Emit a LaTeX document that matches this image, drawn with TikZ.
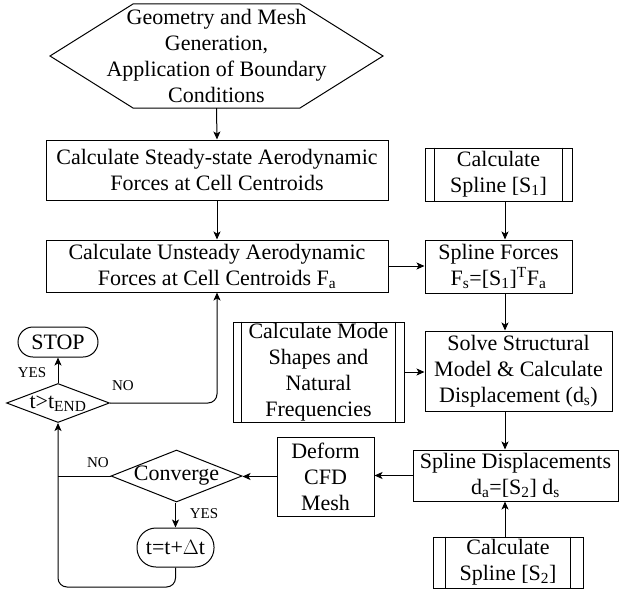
\documentclass[tikz,border=0pt]{standalone}
\usepackage{fontspec}
\setmainfont{Liberation Serif}
\usetikzlibrary{arrows.meta,shapes.geometric}
\begin{document}
\begin{tikzpicture}[x=1pt,y=-1pt,
  every node/.style={font=\fontsize{22}{26}\selectfont, align=center, inner sep=0pt},
  box/.style={draw, line width=1pt},
  lbl/.style={font=\fontsize{15}{17}\selectfont},
  ln/.style={line width=1pt},
  arr/.style={line width=1pt, -{Stealth[length=8pt,width=7pt,inset=2pt]}}
]
\useasboundingbox (0,0) rectangle (620,591);

% hexagon
\draw[ln] (50,56) -- (133,4) -- (300,4) -- (383,56) -- (300,108) -- (133,108) -- cycle;
\node[minimum width=333pt, minimum height=104pt] (hex) at (216.5,56)
  {Geometry and Mesh\\Generation,\\Application of Boundary\\Conditions};

\node[box, minimum width=342pt, minimum height=60pt] (box1) at (217,170)
  {Calculate Steady-state Aerodynamic\\Forces at Cell Centroids};
\node[box, minimum width=342pt, minimum height=52pt] (box2) at (217,266)
  {Calculate Unsteady Aerodynamic\\Forces at Cell Centroids F\textsubscript{a}};

\node[box, minimum width=147pt, minimum height=53pt] (s1) at (498.5,174.5)
  {Calculate\\Spline [S\textsubscript{1}]};
\draw[ln] ([xshift=10pt]s1.north west) -- ([xshift=10pt]s1.south west);
\draw[ln] ([xshift=-10pt]s1.north east) -- ([xshift=-10pt]s1.south east);

\node[box, minimum width=147pt, minimum height=53pt] (sf) at (498.5,266.5)
  {Spline Forces\\F\textsubscript{s}=[S\textsubscript{1}]\textsuperscript{T}F\textsubscript{a}};

\node[box, rounded corners=15pt, minimum width=80pt, minimum height=30pt] (stop) at (58,342) {STOP};

\node[box, minimum width=171pt, minimum height=100pt] (mode) at (318.5,372)
  {Calculate Mode\\Shapes and\\Natural\\Frequencies};
\draw[ln] ([xshift=9pt]mode.north west) -- ([xshift=9pt]mode.south west);
\draw[ln] ([xshift=-9pt]mode.north east) -- ([xshift=-9pt]mode.south east);

\node[box, minimum width=187pt, minimum height=80pt] (solve) at (518.5,371)
  {Solve Structural\\Model \& Calculate\\Displacement (d\textsubscript{s})};

\node[box, diamond, minimum width=103pt, minimum height=39pt, aspect=2.6] (tend) at (58,403) {};
\node at (58,404) {t>t\textsubscript{END}};

\node[box, diamond, minimum width=131pt, minimum height=52pt, aspect=2.5] (conv) at (176.5,476) {};
\node at (176.5,476) {Converge};

\node[box, minimum width=97pt, minimum height=79pt] (deform) at (325.5,476.5)
  {Deform\\CFD\\Mesh};

\node[box, minimum width=205pt, minimum height=51pt] (sd) at (515.5,475.5)
  {Spline Displacements\\d\textsubscript{a}=[S\textsubscript{2}] d\textsubscript{s}};

\node[box, rounded corners=19pt, minimum width=77pt, minimum height=39pt] (tdt) at (175.5,547.5)
  {t=t+$\Delta$t};

\node[box, minimum width=150pt, minimum height=51pt] (s2) at (508,562.5)
  {Calculate\\Spline [S\textsubscript{2}]};
\draw[ln] ([xshift=13pt]s2.north west) -- ([xshift=13pt]s2.south west);
\draw[ln] ([xshift=-13pt]s2.north east) -- ([xshift=-13pt]s2.south east);

\coordinate (col) at (505,0);
\coordinate (loopb) at (58,587);

% connectors
\draw[arr] (hex.south) -- (box1.north);
\draw[arr] (box1.south) -- (box2.north);
\draw[arr] (s1.south -| col) -- (sf.north -| col);
\draw[arr] (box2.east) -- (box2.east -| sf.west);
\draw[arr] (sf.south -| col) -- (solve.north -| col);
\draw[arr] (mode.east) -- (mode.east -| solve.west);
\draw[arr] (solve.south -| col) -- (sd.north -| col);
\draw[arr] (s2.north -| col) -- (sd.south -| col);
\draw[arr] (sd.west) -- (sd.west -| deform.east);
\draw[arr] (deform.west) -- (deform.west -| conv.east);
\draw[arr] (conv.south -| tdt.north) -- (tdt.north);
\draw[arr, rounded corners=9pt] (tdt.south) |- (loopb) -- (tend.south);
\draw[ln] (conv.west) -- (conv.west -| tend.south);
\draw[arr] (tend.north) -- (stop.south);
\draw[arr, rounded corners=9pt] (tend.east) -| (box2.south);

% labels
\node[lbl] at (32,373) {YES};
\node[lbl] at (123,386) {NO};
\node[lbl] at (98,463) {NO};
\node[lbl] at (204,514) {YES};
\end{tikzpicture}
\end{document}
